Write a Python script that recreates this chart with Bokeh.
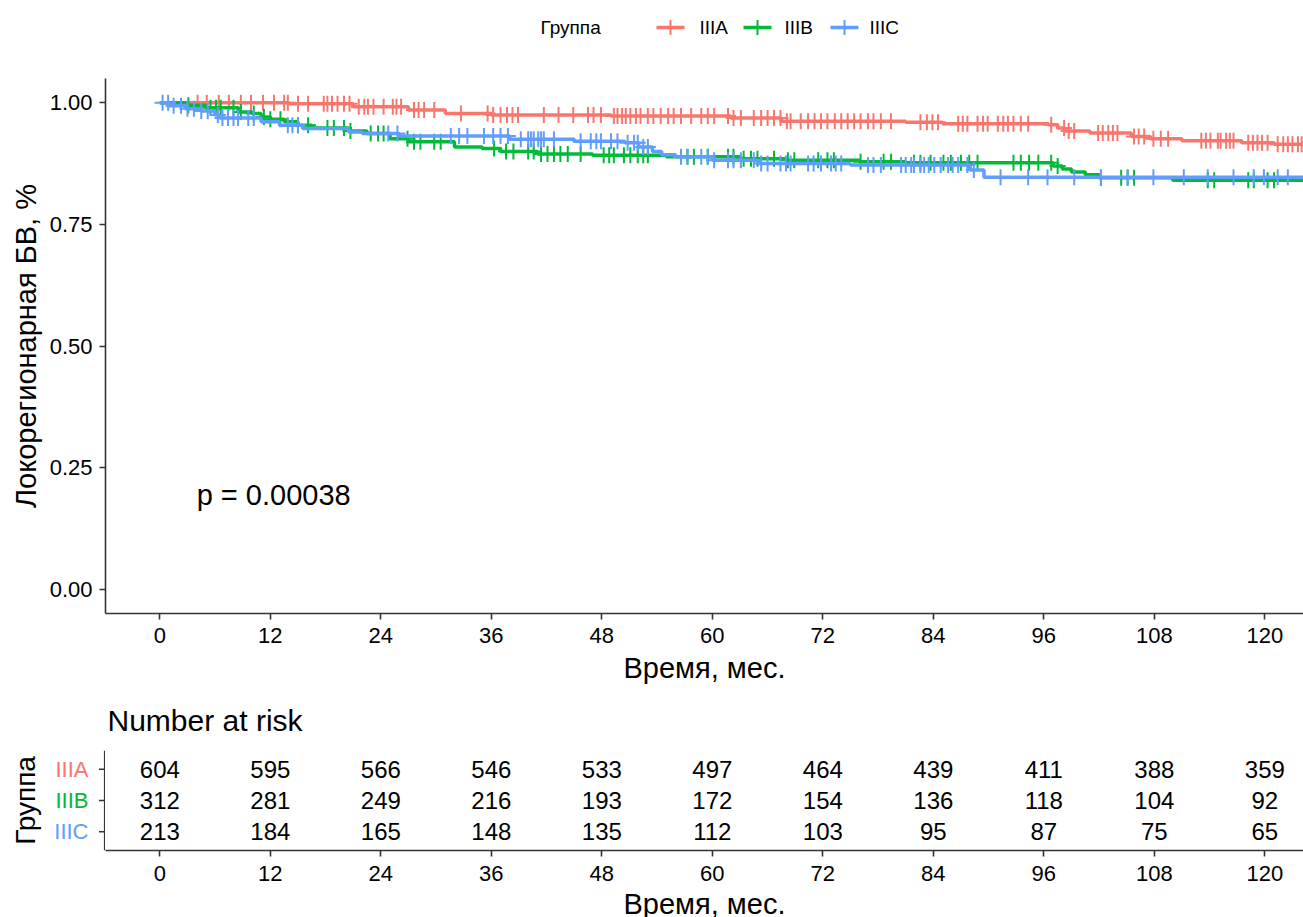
import numpy as np
from bokeh.plotting import figure
from bokeh.models import Range1d, FixedTicker, PrintfTickFormatter, ColumnDataSource, Label
from bokeh.layouts import column, row
from bokeh.embed import file_html
from bokeh.resources import INLINE
from bokeh.core.properties import value

FONT = "Liberation Sans"

groups = ["IIIA", "IIIB", "IIIC"]
colors = ["#F8766D", "#00BA38", "#619CFF"]

# Kaplan-Meier step curves (time in months, survival)
t_a = [0, 14, 21, 27, 31, 36, 49, 62, 67.5, 81, 85, 96.5, 97.5, 98.3, 101, 105.5, 107.5, 111, 117.5, 121, 124.2]
s_a = [1.0, 0.998, 0.992, 0.985, 0.978, 0.975, 0.973, 0.969, 0.962, 0.960, 0.957, 0.955, 0.948, 0.942, 0.938,
       0.931, 0.926, 0.922, 0.918, 0.915, 0.915]

t_b = [0, 3, 5, 8.5, 10, 11, 12, 13.5, 15, 16.5, 20.5, 22.5, 25, 27, 32, 35, 37, 41, 47, 55, 63, 68, 76, 81,
       97, 98, 99, 100.5, 102, 110, 124.2]
s_b = [1.0, 0.995, 0.99, 0.981, 0.978, 0.971, 0.966, 0.961, 0.954, 0.948, 0.942, 0.937, 0.926, 0.920, 0.909,
       0.906, 0.900, 0.895, 0.892, 0.889, 0.885, 0.882, 0.879, 0.877, 0.870, 0.864, 0.858, 0.852, 0.846, 0.841, 0.841]

t_c = [0, 1, 2.8, 4.5, 6, 6.5, 11, 13, 15.5, 20.5, 22, 26, 38, 45, 50.5, 52, 53.5, 54.5, 56, 60, 65, 75, 88, 89.5, 124.2]
s_c = [1.0, 0.994, 0.988, 0.983, 0.975, 0.969, 0.961, 0.954, 0.947, 0.940, 0.937, 0.932, 0.925, 0.921, 0.918,
       0.909, 0.900, 0.893, 0.889, 0.882, 0.875, 0.872, 0.862, 0.847, 0.847]

# censoring times (months)
cens_a = [4.1, 5.1, 6.4, 7.5, 8.8, 9.9, 11.2, 12.4, 13.5, 13.9, 15.0, 16.1, 17.8, 18.2, 18.7, 19.3, 20.0, 20.6,
          21.6, 22.2, 22.6, 23.2, 24.3, 25.3, 25.7, 26.2, 27.6, 28.1, 28.7, 29.8, 32.7, 35.6, 36.2, 37.0, 37.7,
          38.3, 38.9, 41.7, 43.3, 44.9, 46.5, 47.1, 47.9, 49.3, 49.7, 50.2, 50.6, 51.1, 51.7, 52.2, 53.0, 53.6,
          54.4, 55.2, 55.8, 56.6, 57.7, 58.8, 59.5, 60.2, 61.7, 62.3, 63.1, 64.5, 65.3, 66.0, 66.7, 67.4, 68.1,
          68.5, 69.6, 70.4, 71.1, 71.8, 72.5, 73.3, 74.0, 74.7, 75.4, 76.1, 76.9, 77.5, 78.3, 79.4, 82.6, 83.3,
          83.9, 84.5, 86.7, 87.2, 87.7, 88.8, 89.4, 89.9, 91.0, 91.6, 92.1, 92.7, 93.5, 94.3, 96.8, 98.2, 98.7,
          99.3, 101.9, 102.4, 103.0, 103.5, 104.0, 105.8, 106.3, 106.9, 107.9, 108.7, 109.5, 113.1, 113.6, 114.1,
          114.9, 115.2, 115.8, 116.2, 116.6, 118.2, 118.7, 119.2, 119.7, 120.3, 121.4, 122.0, 122.5, 123.0,
          123.6, 124.0]
cens_b = [3.1, 5.5, 6.1, 6.6, 8.0, 8.8, 10.2, 11.3, 12.0, 13.1, 15.0, 16.1, 18.2, 18.9, 20.0, 20.7, 22.9, 23.7,
          24.3, 26.9, 27.6, 28.3, 29.8, 30.5, 36.3, 37.6, 38.4, 40.0, 40.6, 41.4, 42.1, 42.8, 43.5, 44.3, 45.7,
          48.2, 48.8, 49.3, 50.4, 51.1, 51.9, 52.5, 53.0, 57.3, 58.0, 59.5, 61.7, 62.3, 63.4, 64.2, 64.9, 66.7,
          68.2, 68.9, 71.5, 72.5, 73.2, 76.1, 78.6, 79.4, 81.9, 82.6, 83.7, 85.1, 85.9, 87.0, 87.9, 88.8, 92.7,
          93.5, 94.4, 95.4, 96.8, 97.5, 102.2, 104.4, 105.1, 105.8, 113.8, 114.5, 118.2, 118.8, 120.3, 121.0]
cens_c = [0.3, 0.9, 1.5, 2.3, 3.0, 3.7, 4.5, 5.2, 6.3, 6.8, 7.4, 8.0, 8.5, 9.6, 10.2, 13.9, 14.4, 15.0, 24.8,
          25.8, 31.6, 32.5, 33.4, 35.2, 36.2, 37.0, 37.8, 39.2, 40.0, 40.3, 40.6, 41.1, 41.4, 41.7, 42.8, 45.7,
          46.8, 47.4, 47.9, 49.0, 49.7, 50.8, 51.5, 51.9, 52.5, 53.0, 56.6, 57.3, 58.8, 59.5, 60.2, 61.7, 62.3,
          63.1, 64.5, 65.3, 66.0, 67.4, 68.0, 68.5, 70.4, 71.0, 71.8, 72.9, 73.4, 74.0, 76.9, 77.5, 78.3, 80.5,
          81.0, 81.6, 81.9, 82.6, 83.0, 83.5, 84.1, 84.8, 85.6, 86.1, 86.7, 87.7, 88.4, 91.3, 94.3, 96.4, 99.3,
          102.2, 105.1, 107.9, 111.2, 113.8, 116.6, 118.8, 119.9, 121.4, 122.5]

# number at risk
risk_times = [0, 12, 24, 36, 48, 60, 72, 84, 96, 108, 120]
risk_a = [604, 595, 566, 546, 533, 497, 464, 439, 411, 388, 359]
risk_b = [312, 281, 249, 216, 193, 172, 154, 136, 118, 104, 92]
risk_c = [213, 184, 165, 148, 135, 112, 103, 95, 87, 75, 65]

y_ticks = [0, 0.25, 0.5, 0.75, 1.0]
pval_text = "p = 0.00038"

W = 1303
AX = "#333333"
x_rng = Range1d(-5.9, 124.2)


def style_axes(fig, tick_size="22px", title_size="29px"):
    for ax in fig.axis:
        ax.axis_line_color = AX
        ax.axis_line_width = 1.6
        ax.major_tick_line_color = AX
        ax.major_tick_line_width = 1.6
        ax.major_tick_out = 6
        ax.major_tick_in = 0
        ax.minor_tick_out = 0
        ax.minor_tick_in = 0
        ax.major_label_text_font = FONT
        ax.major_label_text_font_size = tick_size
        ax.major_label_text_color = "black"
        ax.axis_label_text_font = FONT
        ax.axis_label_text_font_size = title_size
        ax.axis_label_text_font_style = "normal"
        ax.axis_label_text_color = "black"


def strip(height):
    f = figure(width=W, height=height, x_range=Range1d(105, W), y_range=Range1d(height, 0),
               output_backend="svg", toolbar_location=None, x_axis_location=None, y_axis_location=None,
               min_border_left=105, min_border_right=0, min_border_top=0, min_border_bottom=0)
    f.outline_line_color = None
    f.grid.visible = False
    return f


# ---------- legend strip (page pixels, frame aligned with plot frame) ----------
leg = strip(55)
leg.text(x=[540], y=[27], text=["Группа"], text_font=value(FONT), text_font_size="19px",
         text_baseline="middle", text_align="left", text_color="black")
key_x = [656, 743, 830]
lab_x = [699, 784, 869]
for g, c, kx, lx in zip(groups, colors, key_x, lab_x):
    leg.segment(x0=[kx], y0=[27], x1=[kx + 28], y1=[27], line_color=c, line_width=3.5)
    leg.scatter(x=[kx + 14], y=[27], marker="cross", size=15, line_color=c, line_width=2)
    leg.text(x=[lx], y=[27], text=[g], text_font=value(FONT), text_font_size="19px",
             text_baseline="middle", text_align="left", text_color="black")

# ---------- main survival plot ----------
p = figure(width=W, height=635, x_range=x_rng, y_range=Range1d(-0.05, 1.05),
           output_backend="svg", toolbar_location=None,
           min_border_left=105, min_border_right=0, min_border_top=23, min_border_bottom=77)
p.outline_line_color = None
p.grid.visible = False
p.xaxis.ticker = FixedTicker(ticks=risk_times)
p.yaxis.ticker = FixedTicker(ticks=y_ticks)
p.yaxis.formatter = PrintfTickFormatter(format="%.2f")
p.xaxis.axis_label = "Время, мес."
p.yaxis.axis_label = "Локорегионарная БВ, %"
style_axes(p)
p.xaxis.major_label_standoff = 8
p.yaxis.major_label_standoff = 7
p.xaxis.axis_label_standoff = 6
p.yaxis.axis_label_standoff = 5

curves = [(t_a, s_a, cens_a), (t_b, s_b, cens_b), (t_c, s_c, cens_c)]
for (tt, ss, cc), col in zip(curves, colors):
    tt = np.array(tt, dtype=float)
    ss = np.array(ss, dtype=float)
    p.step(x=tt, y=ss, mode="after", line_color=col, line_width=3.5)
    cc = np.array(cc, dtype=float)
    idx = np.searchsorted(tt, cc, side="right") - 1
    p.scatter(x=cc, y=ss[idx], marker="cross", size=16, line_color=col, line_width=2)

p.add_layout(Label(x=4.0, y=0.193, text=pval_text, text_font=FONT, text_font_size="29px",
                   text_baseline="middle", text_align="left", text_color="black"))

# ---------- "Number at risk" heading strip ----------
head = strip(50)
head.text(x=[107], y=[30], text=["Number at risk"], text_font=value(FONT), text_font_size="30px",
          text_baseline="middle", text_align="left", text_color="black")

# ---------- risk table ----------
lab = figure(frame_width=105, frame_height=100, x_range=Range1d(0, 105), y_range=Range1d(0.4, 3.6),
             output_backend="svg", toolbar_location=None, x_axis_location=None, y_axis_location=None,
             min_border_left=0, min_border_right=0, min_border_top=10, min_border_bottom=67)
lab.outline_line_color = None
lab.grid.visible = False
row_y = [3, 2, 1]
lab.text(x=[88] * 3, y=row_y, text=groups, text_color=colors, text_font=value(FONT),
         text_font_size="22px", text_align="right", text_baseline="middle")
lab.text(x=[25], y=[2], text=["Группа"], angle=np.pi / 2, text_font=value(FONT), text_font_size="28px",
         text_align="center", text_baseline="middle", text_color="black")
lab.segment(x0=[104.2], y0=[0.4], x1=[104.2], y1=[3.6], line_color=AX, line_width=1.6)
lab.segment(x0=[98.5] * 3, y0=row_y, x1=[105] * 3, y1=row_y, line_color=AX, line_width=1.6)

tbl = figure(frame_width=W - 105, frame_height=100, x_range=x_rng, y_range=Range1d(0.4, 3.6),
             output_backend="svg", toolbar_location=None, y_axis_location=None,
             min_border_left=0, min_border_right=0, min_border_top=10, min_border_bottom=67)
tbl.outline_line_color = None
tbl.grid.visible = False
tbl.xaxis.ticker = FixedTicker(ticks=risk_times)
tbl.xaxis.axis_label = "Время, мес."
style_axes(tbl)
tbl.xaxis.major_label_standoff = 9
tbl.xaxis.axis_label_standoff = 4

rt = []
ry = []
rv = []
for yv, vals in zip(row_y, [risk_a, risk_b, risk_c]):
    rt += risk_times
    ry += [yv] * len(vals)
    rv += [str(v) for v in vals]
src = ColumnDataSource(dict(x=rt, y=ry, text=rv))
tbl.text(x="x", y="y", text="text", source=src, text_font=value(FONT), text_font_size="24px",
         text_align="center", text_baseline="middle", text_color="black")

layout = column(leg, p, head, row(lab, tbl))
open("out.html", "w").write(file_html(layout, INLINE))
